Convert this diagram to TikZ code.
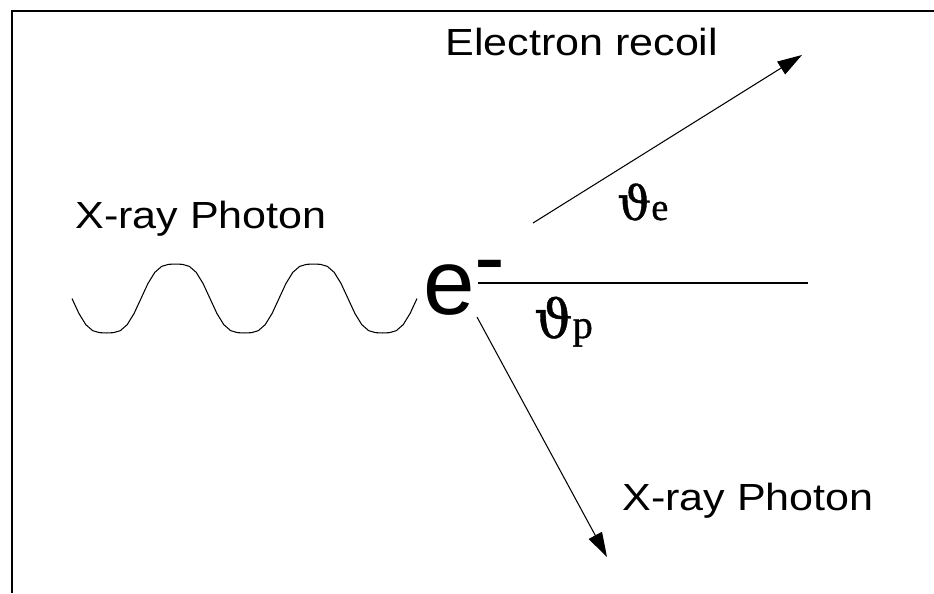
\documentclass[tikz,border=0pt]{standalone}
\usepackage{fontspec}
\newfontfamily\labelfont[FakeStretch=1.14]{Liberation Sans}
\newfontfamily\bigfont{Liberation Sans}
\newfontfamily\thetafont[FakeBold=0.8]{DejaVu Serif}
\newfontfamily\subfont[FakeBold=0.8]{Liberation Serif}
\usepackage{tikz}
\usetikzlibrary{arrows.meta}

\begin{document}
\begin{tikzpicture}[x=0.02cm, y=-0.02cm,
        lbl/.style={inner sep=0pt, anchor=base west,
                    font=\labelfont\fontsize{21.5}{24}\selectfont},
        ang/.style={inner sep=0pt, anchor=base west},
        arr/.style={-{Triangle[length=14pt, width=8.5pt]}, line width=0.6pt},
        ln/.style={line width=0.6pt}
      ]
        \useasboundingbox (0,0) rectangle (934,593);
        % frame: top and left side only
        \draw[line width=0.9pt] (934,11) -- (12,11) -- (12,593);
        % incoming photon
        \draw[ln] plot[domain=0:345, samples=51]
            ({72+\x}, {298.5+38.3*(sin(2.6087*\x)+0.1*sin(7.8261*\x))});
        \node[lbl] (inlbl)  at (75,228)  {X-ray Photon};
        \node[inner sep=0pt, anchor=base west,
              font=\bigfont\fontsize{52.7}{60}\selectfont] (elec) at (423,314) {e\raisebox{0.28em}{-}};
        \node[lbl] (reclbl) at (445,55)  {Electron recoil};
        \node[lbl] (outlbl) at (622,510) {X-ray Photon};
        \node[ang] (the) at (617,220)
            {{\thetafont\fontsize{27}{30}\selectfont ϑ}{\subfont\fontsize{22}{25}\selectfont e}};
        \node[ang] (thp) at (534,338)
            {{\thetafont\fontsize{30.5}{34}\selectfont ϑ}{\subfont\fontsize{23}{26}\selectfont p}};
        \coordinate (axS)  at (478,283);
        \coordinate (axE)  at (808,283);
        \coordinate (recS) at (533,223);
        \coordinate (recE) at (802,55);
        \coordinate (outS) at (477,317);
        \coordinate (outE) at (607,557);
        \draw[ln]  (axS) -- (axE);
        \draw[arr] (recS) -- (recE);
        \draw[arr] (outS) -- (outE);
      \end{tikzpicture}
\end{document}
